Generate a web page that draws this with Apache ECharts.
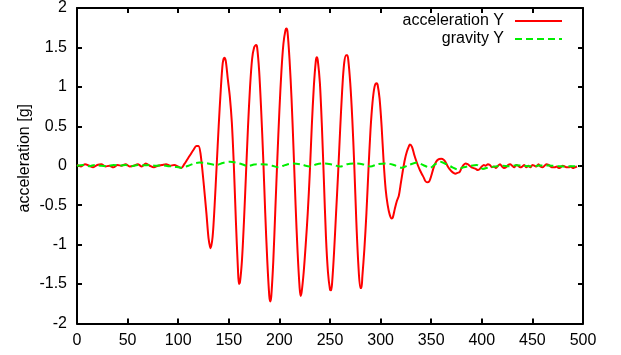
<!DOCTYPE html>
<html><head><meta charset="utf-8">
<script src="https://cdn.jsdelivr.net/npm/echarts@6/dist/echarts.min.js"></script>
<style>html,body{margin:0;padding:0;background:#fff}#c{width:621px;height:355px}</style>
</head><body><div id="c"></div>
<script>
var accX = [0,4,8,12,16,20,24,28,32,36,40,44,48,52,56,60,64,68,72,76,80,84,88,92,96,100,103,
  106,109,112,115,118,120,122,125,128,130,132,134,136,138,140,142,144,145.6,147,149,151,153,155,157,159,160,161,163,165,167,169,171,173,175,177,178,180,182,184,186,188,190,191,192,194,196,198,200,202,204,206,207,208,210,212,214,216,218,220,221,222,224,226,228,230,232,234,236,237,238,240,242,244,246,248,250,251,252,254,256,258,260,262,264,266,267,268,270,272,274,276,278,280,281,282,284,286,288,290,292,294,296,297,299,301,303,305,307,309,311,312,314,316,318,320,322,324,326,328,329,331,333,335,337,339,341,343,344,346,348,350,352,354,356,358,360,362,364,366,368,370,372,374,376,378,380,382,384,386,388,390,392,394,396,398,400,402,404,406,408,410,412,414,416,418,420,422,424,426,428,430,432,434,436,438,440,442,444,446,448,450,452,454,456,458,460,462,464,466,468,470,472,474,476,478,480,482,484,486,488,490,492,494,496];
var accY = [0.01,-0.01,0.02,0.00,-0.02,0.01,0.02,-0.01,0.00,-0.02,0.01,0.00,0.02,-0.01,0.00,0.02,-0.01,0.03,0.00,-0.02,0.00,0.01,0.02,0.00,0.01,-0.01,-0.03,
  0.02,0.08,0.14,0.20,0.25,0.25,0.16,-0.20,-0.62,-0.92,-1.045,-0.90,-0.50,0.00,0.50,0.95,1.30,1.37,1.33,1.10,0.88,0.55,0.00,-0.70,-1.30,-1.50,-1.48,-1.20,-0.70,-0.10,0.50,1.00,1.35,1.50,1.53,1.50,1.20,0.70,0.10,-0.60,-1.20,-1.65,-1.72,-1.65,-1.20,-0.55,0.10,0.70,1.20,1.55,1.72,1.74,1.70,1.35,0.85,0.20,-0.50,-1.10,-1.55,-1.65,-1.60,-1.35,-1.00,-0.60,-0.10,0.50,1.00,1.33,1.375,1.33,1.05,0.50,-0.20,-0.90,-1.35,-1.57,-1.58,-1.50,-1.10,-0.60,-0.10,0.45,0.95,1.30,1.40,1.40,1.35,1.05,0.60,0.00,-0.70,-1.25,-1.55,-1.55,-1.40,-1.05,-0.60,-0.05,0.45,0.80,1.00,1.045,1.03,0.85,0.50,0.05,-0.30,-0.50,-0.62,-0.67,-0.66,-0.55,-0.45,-0.38,-0.22,-0.06,0.08,0.18,0.25,0.27,0.24,0.15,0.07,0.00,-0.06,-0.11,-0.16,-0.19,-0.21,-0.20,-0.13,-0.04,0.03,0.07,0.085,0.09,0.08,0.05,0.00,-0.04,-0.07,-0.09,-0.10,-0.09,-0.08,-0.03,0.01,0.03,0.02,0.00,-0.02,-0.03,-0.04,-0.055,-0.04,-0.01,0.01,0.00,0.02,0.01,-0.02,-0.01,-0.03,0.00,0.02,-0.01,-0.03,-0.02,0.01,0.02,0.00,-0.02,0.01,0.00,-0.02,-0.01,0.01,-0.02,0.00,-0.02,0.01,0.00,-0.01,0.02,-0.01,-0.02,0.00,0.02,0.01,-0.01,-0.02,-0.02,-0.01,-0.03,-0.02,0.00,-0.01,-0.02,-0.02,-0.01,-0.03,-0.02,-0.01];
var gravX = [0,6,12,18,24,30,36,42,48,54,60,66,72,78,84,90,96,103,110,116,121,127,133,138,144,151,157,163,169,175,181,187,193,199,206,214,222,230,237,245,252,260,267,275,282,290,297,305,313,321,328,336,342,349,354,359,365,371,376,382,389,395,401,407,413,420,427,434,441,448,455,462,469,476,483,490,497];
var gravY = [0.00,0.01,-0.005,0.01,0.00,-0.005,0.01,0.00,0.01,-0.005,0.01,0.005,0.01,0.00,0.005,-0.005,-0.01,-0.025,0.00,0.03,0.04,0.035,0.02,0.01,0.035,0.05,0.04,0.02,-0.005,0.015,0.02,0.015,0.00,-0.02,0.01,0.03,0.015,-0.01,0.02,0.03,0.015,-0.01,0.02,0.03,0.02,-0.01,0.02,0.03,0.01,-0.025,0.01,0.04,0.01,-0.025,0.02,0.05,0.02,-0.02,-0.045,-0.02,0.00,0.01,-0.04,-0.02,-0.01,0.00,-0.005,0.005,0.00,-0.005,0.00,0.005,0.00,-0.005,-0.01,-0.005,-0.005];
var xTicks = {min:0, max:500, interval:50};
var yTicks = {min:-2, max:2, interval:0.5};
var names = ['acceleration Y','gravity Y'];

function pairs(xs, ys){ return xs.map(function(x,i){return [x, ys[i]];}); }
var FONT = 'Liberation Sans, Arial, Helvetica, sans-serif';
var chart = echarts.init(document.getElementById('c'), null, {renderer:'canvas'});
var tickStyle = {show:true, inside:true, length:5, lineStyle:{color:'#000', width:2}};
var lineStyleAx = {show:true, onZero:false, lineStyle:{color:'#000', width:2}};
var legendCommon = {right:58, padding:0, align:'right', itemWidth:47, itemHeight:14,
  itemStyle:{opacity:0, borderWidth:0},
  textStyle:{fontSize:16, color:'#000', fontFamily:FONT, padding:[0,6,0,0]}};
chart.setOption({
  animation:false,
  textStyle:{fontFamily:FONT},
  grid:{left:77, right:38, top:4.5, bottom:31.5, show:false},
  legend:[
    Object.assign({data:[names[0]], top:13}, legendCommon),
    Object.assign({data:[names[1]], top:31}, legendCommon)
  ],
  xAxis:[
    {type:'value', min:xTicks.min, max:xTicks.max, interval:xTicks.interval, position:'bottom',
     axisLine:lineStyleAx, axisTick:tickStyle, splitLine:{show:false},
     axisLabel:{color:'#000', fontSize:16, margin:9, fontFamily:FONT}},
    {type:'value', min:xTicks.min, max:xTicks.max, interval:xTicks.interval, position:'top',
     axisLine:lineStyleAx, axisTick:tickStyle, splitLine:{show:false}, axisLabel:{show:false}}
  ],
  yAxis:[
    {type:'value', min:yTicks.min, max:yTicks.max, interval:yTicks.interval, position:'left',
     name:'acceleration [g]', nameLocation:'middle', nameRotate:90, nameGap:44, nameMoveOverlap:false,
     nameTextStyle:{color:'#000', fontSize:16, fontFamily:FONT, padding:[0,0,0,15]},
     axisLine:lineStyleAx, axisTick:tickStyle, splitLine:{show:false},
     axisLabel:{color:'#000', fontSize:16, margin:10, fontFamily:FONT}},
    {type:'value', min:yTicks.min, max:yTicks.max, interval:yTicks.interval, position:'right',
     axisLine:lineStyleAx, axisTick:tickStyle, splitLine:{show:false}, axisLabel:{show:false}}
  ],
  series:[
    {name:names[0], type:'line', xAxisIndex:0, yAxisIndex:0, data:pairs(accX, accY), symbol:'none', smooth:0.3,
     lineStyle:{color:'#ff0000', width:2}, itemStyle:{color:'#ff0000'}, z:3},
    {name:names[1], type:'line', xAxisIndex:0, yAxisIndex:0, data:pairs(gravX, gravY), symbol:'none', smooth:0.3,
     lineStyle:{color:'#00ee00', width:2, type:[7,4]}, itemStyle:{color:'#00ee00'}, z:4}
  ]
});
</script></body></html>
